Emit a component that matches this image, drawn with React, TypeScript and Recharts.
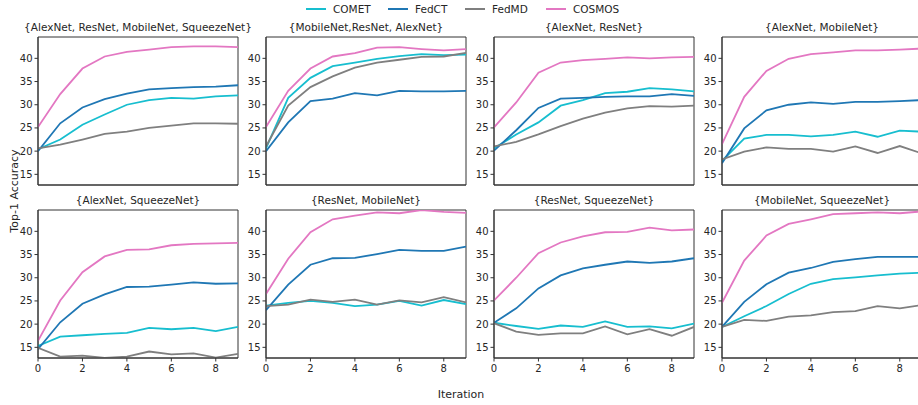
import React from "react";
import { LineChart, Line, XAxis, YAxis, ReferenceArea } from "recharts";

const iterations = [0, 1, 2, 3, 4, 5, 6, 7, 8, 9];
const seriesNames = ["COMET", "FedCT", "FedMD", "COSMOS"];
const seriesColors = ["#17becf", "#1f77b4", "#7f7f7f", "#e377c2"];
const xTicks = [0, 2, 4, 6, 8];
const yTicks = [15, 20, 25, 30, 35, 40];
const yDomain = [12.7, 44.6];

const titles = [
  "{AlexNet, ResNet, MobileNet, SqueezeNet}",
  "{MobileNet,ResNet, AlexNet}",
  "{AlexNet, ResNet}",
  "{AlexNet, MobileNet}",
  "{AlexNet, SqueezeNet}",
  "{ResNet, MobileNet}",
  "{ResNet, SqueezeNet}",
  "{MobileNet, SqueezeNet}",
];

// Panel 1
const p1Comet = [20.4, 22.5, 25.7, 27.9, 30.0, 31.0, 31.5, 31.3, 31.8, 32.0];
const p1FedCT = [20.0, 26.0, 29.4, 31.2, 32.4, 33.3, 33.6, 33.8, 33.9, 34.2];
const p1FedMD = [20.6, 21.4, 22.5, 23.7, 24.2, 25.0, 25.5, 26.0, 26.0, 25.9];
const p1Cosmos = [25.2, 32.3, 37.8, 40.4, 41.4, 41.9, 42.4, 42.6, 42.6, 42.4];
// Panel 2
const p2Comet = [20.6, 31.5, 35.8, 38.3, 39.1, 39.9, 40.5, 40.9, 40.7, 40.8];
const p2FedCT = [20.0, 26.2, 30.8, 31.3, 32.5, 32.0, 33.0, 32.9, 32.9, 33.0];
const p2FedMD = [21.0, 29.8, 33.8, 36.1, 38.0, 39.1, 39.7, 40.3, 40.4, 41.2];
const p2Cosmos = [25.2, 33.0, 37.8, 40.4, 41.1, 42.3, 42.4, 42.0, 41.7, 42.0];
// Panel 3
const p3Comet = [20.6, 23.6, 26.2, 29.8, 31.0, 32.5, 32.8, 33.6, 33.3, 32.9];
const p3FedCT = [20.1, 24.5, 29.3, 31.3, 31.5, 31.7, 31.8, 31.8, 32.3, 31.9];
const p3FedMD = [21.0, 22.0, 23.6, 25.4, 27.0, 28.3, 29.2, 29.7, 29.6, 29.8];
const p3Cosmos = [25.1, 30.5, 36.9, 39.1, 39.6, 39.9, 40.2, 40.0, 40.2, 40.3];
// Panel 4
const p4Comet = [17.9, 22.7, 23.5, 23.5, 23.2, 23.5, 24.2, 23.1, 24.4, 24.2];
const p4FedCT = [17.4, 24.9, 28.8, 30.0, 30.5, 30.2, 30.6, 30.6, 30.8, 31.0];
const p4FedMD = [18.2, 19.9, 20.8, 20.5, 20.5, 19.9, 21.0, 19.6, 21.1, 19.5];
const p4Cosmos = [21.5, 31.7, 37.3, 39.9, 40.9, 41.3, 41.7, 41.7, 41.9, 42.1];
// Panel 5
const p5Comet = [15.3, 17.3, 17.6, 17.9, 18.1, 19.2, 18.9, 19.2, 18.5, 19.4];
const p5FedCT = [14.6, 20.4, 24.4, 26.4, 28.0, 28.1, 28.5, 29.0, 28.7, 28.8];
const p5FedMD = [14.9, 13.0, 13.2, 12.7, 13.0, 14.1, 13.5, 13.7, 12.8, 13.6];
const p5Cosmos = [16.4, 25.1, 31.2, 34.6, 36.0, 36.1, 37.0, 37.3, 37.4, 37.5];
// Panel 6
const p6Comet = [24.0, 24.6, 25.0, 24.6, 23.9, 24.2, 25.0, 24.0, 25.2, 24.3];
const p6FedCT = [23.0, 28.5, 32.8, 34.2, 34.3, 35.1, 36.0, 35.8, 35.8, 36.7];
const p6FedMD = [23.9, 24.2, 25.3, 24.8, 25.3, 24.2, 25.1, 24.7, 25.8, 24.7];
const p6Cosmos = [26.5, 34.1, 39.8, 42.6, 43.4, 44.1, 43.9, 44.6, 44.2, 44.0];
// Panel 7
const p7Comet = [20.3, 19.6, 19.0, 19.7, 19.4, 20.6, 19.4, 19.5, 19.1, 20.1];
const p7FedCT = [20.3, 23.4, 27.7, 30.5, 32.0, 32.8, 33.5, 33.2, 33.5, 34.2];
const p7FedMD = [20.2, 18.4, 17.7, 18.0, 18.0, 19.5, 17.8, 18.9, 17.5, 19.4];
const p7Cosmos = [25.1, 30.0, 35.3, 37.6, 38.9, 39.8, 39.9, 40.8, 40.2, 40.4];
// Panel 8
const p8Comet = [19.4, 21.7, 23.9, 26.5, 28.7, 29.7, 30.1, 30.5, 30.9, 31.1];
const p8FedCT = [19.4, 24.8, 28.6, 31.1, 32.1, 33.4, 34.0, 34.5, 34.5, 34.5];
const p8FedMD = [19.4, 20.9, 20.7, 21.6, 21.9, 22.6, 22.8, 23.9, 23.4, 24.1];
const p8Cosmos = [24.6, 33.7, 39.1, 41.6, 42.6, 43.7, 43.9, 44.1, 43.9, 44.3];

const panelSeries = [
  [p1Comet, p1FedCT, p1FedMD, p1Cosmos],
  [p2Comet, p2FedCT, p2FedMD, p2Cosmos],
  [p3Comet, p3FedCT, p3FedMD, p3Cosmos],
  [p4Comet, p4FedCT, p4FedMD, p4Cosmos],
  [p5Comet, p5FedCT, p5FedMD, p5Cosmos],
  [p6Comet, p6FedCT, p6FedMD, p6Cosmos],
  [p7Comet, p7FedCT, p7FedMD, p7Cosmos],
  [p8Comet, p8FedCT, p8FedMD, p8Cosmos],
];

const FONT = "'DejaVu Sans', sans-serif";
const TEXT = "#262626";
const SPINE = "#333333";
const colLefts = [38, 266, 494, 722];
const rowTops = [37, 210];
const PW = 200;
const PH = 148;
const YW = 40;
const MT = 2;
const XH = 22;

function Panel({ idx }: { idx: number }) {
  const row = Math.floor(idx / 4);
  const col = idx % 4;
  const data = iterations.map((it, i) => {
    const o: Record<string, number> = { it };
    seriesNames.forEach((n, s) => {
      o[n] = panelSeries[idx][s][i];
    });
    return o;
  });
  const left = colLefts[col];
  const top = rowTops[row];
  const tickStyle = { fontSize: 10, fill: TEXT, fontFamily: FONT };
  return (
    <>
      <div
        style={{
          position: "absolute",
          left: left - 20,
          width: PW + 40,
          top: top - 16,
          textAlign: "center",
          fontFamily: FONT,
          fontSize: 10.5,
          color: TEXT,
          whiteSpace: "nowrap",
          lineHeight: "13px",
        }}
      >
        {titles[idx]}
      </div>
      <div style={{ position: "absolute", left: left - YW, top: top - MT }}>
        <LineChart
          width={YW + PW + 4}
          height={PH + MT + XH}
          data={data}
          margin={{ top: MT, right: 4, left: 0, bottom: 0 }}
        >
          <XAxis
            xAxisId="b"
            dataKey="it"
            type="number"
            domain={[0, 9]}
            ticks={xTicks}
            height={XH}
            tickSize={3.5}
            tickMargin={3}
            tick={row === 1 ? tickStyle : false}
            stroke={SPINE}
            tickLine={{ stroke: SPINE }}
            axisLine={{ stroke: SPINE }}
            allowDataOverflow
          />
          <YAxis
            yAxisId="l"
            type="number"
            domain={yDomain}
            ticks={yTicks}
            width={YW}
            tickSize={3.5}
            tickMargin={2}
            tick={tickStyle}
            stroke={SPINE}
            tickLine={{ stroke: SPINE }}
            axisLine={{ stroke: SPINE }}
            allowDataOverflow
          />
          <ReferenceArea
            xAxisId="b"
            yAxisId="l"
            x1={0}
            x2={9}
            y1={yDomain[0]}
            y2={yDomain[1]}
            fill="none"
            fillOpacity={0}
            stroke={SPINE}
            strokeWidth={1}
            ifOverflow="visible"
          />
          {seriesNames.map((n, s) => (
            <Line
              key={n}
              xAxisId="b"
              yAxisId="l"
              dataKey={n}
              stroke={seriesColors[s]}
              strokeWidth={1.8}
              dot={false}
              activeDot={false}
              type="linear"
              isAnimationActive={false}
            />
          ))}
        </LineChart>
      </div>
    </>
  );
}

const legendX = [306, 388, 465, 546];

export default function App() {
  return (
    <div
      style={{
        position: "absolute",
        left: 0,
        top: 0,
        width: 918,
        height: 405,
        overflow: "hidden",
        background: "#fff",
        fontFamily: FONT,
      }}
    >
      {seriesNames.map((n, s) => (
        <div key={n} style={{ position: "absolute", left: legendX[s], top: 2, height: 14, display: "flex", alignItems: "center" }}>
          <div style={{ width: 20, height: 2, background: seriesColors[s] }} />
          <span style={{ marginLeft: 7, fontSize: 10.5, color: TEXT, fontFamily: FONT }}>{n}</span>
        </div>
      ))}
      {Array.from({ length: 8 }, (_, i) => (
        <Panel key={i} idx={i} />
      ))}
      <div
        style={{
          position: "absolute",
          left: 14,
          top: 191,
          transform: "translate(-50%, -50%) rotate(-90deg)",
          fontSize: 11,
          color: TEXT,
          whiteSpace: "nowrap",
        }}
      >
        Top-1 Accuracy
      </div>
      <div
        style={{
          position: "absolute",
          left: 461,
          top: 394,
          transform: "translate(-50%, -50%)",
          fontSize: 11,
          color: TEXT,
          whiteSpace: "nowrap",
        }}
      >
        Iteration
      </div>
    </div>
  );
}
